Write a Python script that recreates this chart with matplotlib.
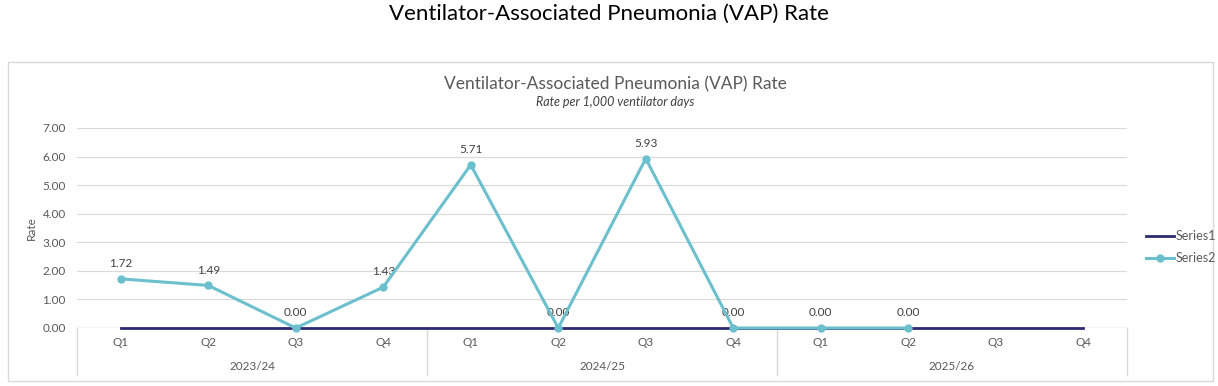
import numpy as np
import matplotlib.pyplot as plt
from matplotlib.patches import Rectangle

plt.rcParams['font.family'] = ['Lato', 'DejaVu Sans']

# data
years = ['2023/24', '2024/25', '2025/26']
quarters = ['Q1', 'Q2', 'Q3', 'Q4']
series1 = [0, 0, 0, 0, 0, 0, 0, 0, 0, 0, 0, 0]
series2 = [1.72, 1.49, 0.00, 1.43, 5.71, 0.00, 5.93, 0.00, 0.00, 0.00, np.nan, np.nan]

W, H = 1218, 386
fig = plt.figure(figsize=(W / 100, H / 100), dpi=100)

# chart frame
fig.patches.append(Rectangle((8 / W, 1 - 381 / H), 1205 / W, 319 / H,
                             transform=fig.transFigure, fill=False,
                             edgecolor='#d9d9d9', linewidth=1))

fig.text(0.5, 1 - 14 / H, 'Ventilator-Associated Pneumonia (VAP) Rate',
         ha='center', va='center', fontsize=16, color='black')
fig.text(615 / W, 1 - 84 / H, 'Ventilator-Associated Pneumonia (VAP) Rate',
         ha='center', va='center', fontsize=12.5, color='#595959')
fig.text(615 / W, 1 - 102 / H, 'Rate per 1,000 ventilator days',
         ha='center', va='center', fontsize=9, style='italic', color='#404040')

left, right, bottom, top = 77, 1127, 328, 128
ax = fig.add_axes([left / W, 1 - bottom / H, (right - left) / W, (bottom - top) / H])

n = len(series1)
x = np.arange(n)
ax.set_xlim(-0.5, n - 0.5)
ax.set_ylim(0, 7)
ax.set_yticks(np.arange(0, 8, 1))
ax.set_yticklabels(['%.2f' % v for v in range(8)])
ax.grid(axis='y', color='#d9d9d9', linewidth=0.8)
ax.set_axisbelow(True)
for s in ax.spines.values():
    s.set_visible(False)
ax.tick_params(axis='y', length=0, labelsize=8.5, colors='#595959', pad=8)
ax.tick_params(axis='x', length=0, labelbottom=False)
ax.set_ylabel('Rate', fontsize=8.5, color='#595959', labelpad=4)

ax.plot(x, series1, color='#2e2a72', linewidth=2, label='Series1', zorder=3, clip_on=False)
ax.plot(x, series2, color='#6cc0cd', linewidth=2.2, marker='o', markersize=5,
        label='Series2', zorder=4, clip_on=False)

for xi, v in zip(x, series2):
    if not np.isnan(v):
        ax.annotate('%.2f' % v, (xi, v), xytext=(0, 7), textcoords='offset points',
                    ha='center', va='bottom', fontsize=8.5, color='#404040')

# multi-level category axis
trans = ax.get_xaxis_transform()
for i in range(n):
    ax.text(i, -14 / 200, quarters[i % 4], transform=trans,
            ha='center', va='center', fontsize=8.5, color='#595959', clip_on=False)
for j, yr in enumerate(years):
    ax.text(j * 4 + 1.5, -39 / 200, yr, transform=trans,
            ha='center', va='center', fontsize=8.5, color='#595959', clip_on=False)
for j in range(len(years) + 1):
    ax.plot([j * 4 - 0.5] * 2, [0, -47 / 200], transform=trans,
            color='#d9d9d9', linewidth=1, clip_on=False)
ax.plot([-0.5, n - 0.5], [0, 0], transform=trans, color='#d9d9d9', linewidth=1, zorder=1)

fig.legend(*ax.get_legend_handles_labels(), loc='center left',
           bbox_to_anchor=(1146 / W, 1 - 247 / H), bbox_transform=fig.transFigure,
           frameon=False, fontsize=9, labelcolor='#595959', handlelength=2.2,
           handletextpad=0.2, labelspacing=0.8, borderpad=0, borderaxespad=0)

fig.savefig('out.png', dpi=100)
